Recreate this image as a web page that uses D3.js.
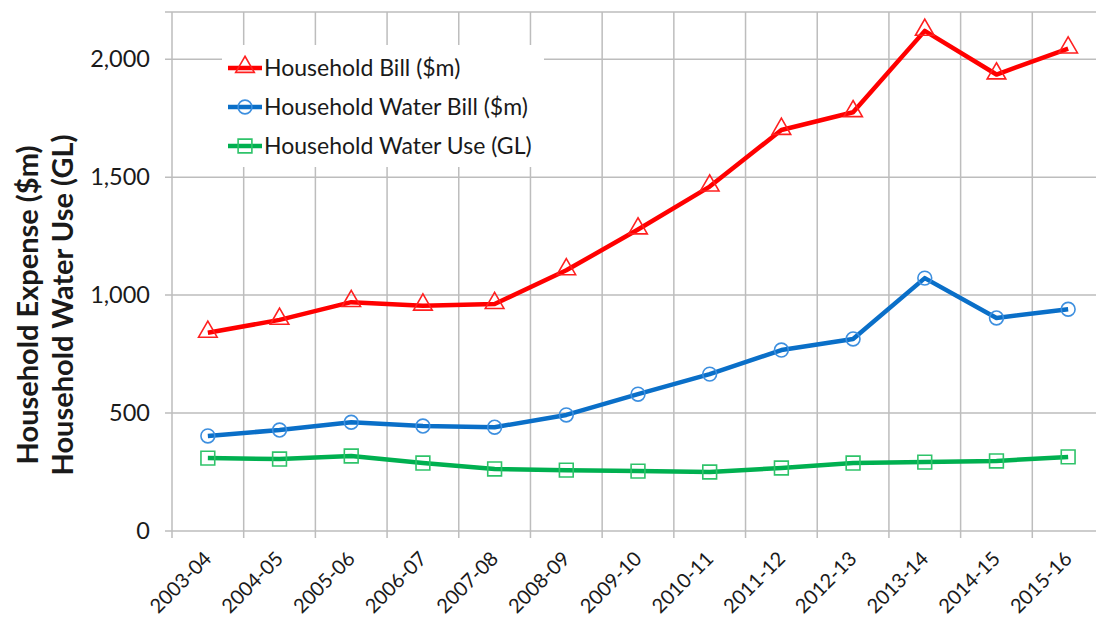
<!DOCTYPE html>
<html>
<head>
<meta charset="utf-8">
<script src="https://cdn.jsdelivr.net/npm/d3@7"></script>
<style>
  body { margin: 0; background: #fff; }
  text { font-family: Lato, "Open Sans", sans-serif; fill: #1a1a1a; }
</style>
</head>
<body>
<div id="chart"></div>
<script>
const years = ["2003-04", "2004-05", "2005-06", "2006-07", "2007-08", "2008-09", "2009-10",
  "2010-11", "2011-12", "2012-13", "2013-14", "2014-15", "2015-16"];
const householdBill = [840, 895, 970, 955, 962, 1105, 1278, 1460, 1700, 1775, 2120, 1935, 2045];
const householdWaterBill = [403, 428, 461, 445, 440, 492, 580, 665, 767, 814, 1072, 903, 940];
const householdWaterUse = [309, 305, 318, 288, 263, 258, 254, 250, 267, 288, 292, 297, 314];
const yTicks = [0, 500, 1000, 1500, 2000];

const series = [
  { name: "Household Bill ($m)", values: householdBill, color: "#ff0000", marker: "#ff2020", symbol: d3.symbolTriangle, size: 150 },
  { name: "Household Water Bill ($m)", values: householdWaterBill, color: "#0a6fc8", marker: "#3d8fdf", symbol: d3.symbolCircle, size: 150 },
  { name: "Household Water Use (GL)", values: householdWaterUse, color: "#00b050", marker: "#2fc36a", symbol: d3.symbolSquare, size: 190 }
];

const width = 1096, height = 626;
const margin = { top: 12, right: -8, bottom: 95, left: 172 };

const svg = d3.select("#chart").append("svg")
  .attr("width", width)
  .attr("height", height);

const x = d3.scaleBand()
  .domain(years)
  .range([margin.left, width - margin.right]);

const y = d3.scaleLinear()
  .domain([0, 2200])
  .range([height - margin.bottom, margin.top]);

const grid = svg.append("g").attr("stroke", "#bdbdbd").attr("stroke-width", 1.5);

// horizontal gridlines + top border
grid.selectAll(".hg")
  .data(yTicks.concat([2200]))
  .join("line")
  .attr("x1", margin.left - 7)
  .attr("x2", width - margin.right)
  .attr("y1", d => y(d))
  .attr("y2", d => y(d));

// vertical gridlines at category boundaries
const bounds = years.map(d => x(d)).concat([x(years[years.length - 1]) + x.bandwidth()]);
grid.selectAll(".vg")
  .data(bounds)
  .join("line")
  .attr("x1", d => d)
  .attr("x2", d => d)
  .attr("y1", y(2200))
  .attr("y2", y(0) + 7);

// y tick labels
svg.append("g")
  .selectAll("text")
  .data(yTicks)
  .join("text")
  .attr("x", margin.left - 22)
  .attr("y", d => y(d))
  .attr("dy", "0.35em")
  .attr("text-anchor", "end")
  .style("font-size", "23.5px")
  .text(d => d3.format(",")(d));

// x tick labels
svg.append("g")
  .selectAll("text")
  .data(years)
  .join("text")
  .attr("transform", d => `translate(${x(d) + x.bandwidth() / 2},${y(0) + 24}) rotate(-45)`)
  .attr("text-anchor", "end")
  .attr("dy", "0.35em")
  .style("font-size", "20px")
  .text(d => d);

// y axis title
const title = svg.append("text")
  .attr("transform", `translate(0,305) rotate(-90)`)
  .attr("text-anchor", "middle")
  .style("font-size", "29px")
  .style("font-weight", "bold");
title.append("tspan").attr("x", 0).attr("y", 38).text("Household Expense ($m)");
title.append("tspan").attr("x", 0).attr("y", 73).text("Household Water Use (GL)");

// lines
const line = d3.line()
  .x((d, i) => x(years[i]) + x.bandwidth() / 2)
  .y(d => y(d));

series.forEach(s => {
  svg.append("path")
    .datum(s.values)
    .attr("fill", "none")
    .attr("stroke", s.color)
    .attr("stroke-width", 4.5)
    .attr("stroke-linejoin", "round")
    .attr("d", line);

  svg.append("g")
    .selectAll("path")
    .data(s.values)
    .join("path")
    .attr("transform", (d, i) => `translate(${x(years[i]) + x.bandwidth() / 2},${y(d) + (s.symbol === d3.symbolTriangle ? -1 : 0)})`)
    .attr("d", d3.symbol().type(s.symbol).size(s.size))
    .attr("fill", "none")
    .attr("stroke", s.marker)
    .attr("stroke-width", 1.6);
});

// legend
const legend = svg.append("g").attr("transform", "translate(222,45)");
legend.append("rect")
  .attr("width", 322)
  .attr("height", 122)
  .attr("fill", "#fff");

const entry = legend.selectAll("g")
  .data(series)
  .join("g")
  .attr("transform", (d, i) => `translate(6,${23 + i * 39})`);

entry.append("line")
  .attr("x1", 0).attr("x2", 34)
  .attr("stroke", d => d.color)
  .attr("stroke-width", 4.5);

entry.append("path")
  .attr("transform", d => `translate(17,${d.symbol === d3.symbolTriangle ? -1 : 0})`)
  .attr("d", d => d3.symbol().type(d.symbol).size(d.size)())
  .attr("fill", "none")
  .attr("stroke", d => d.marker)
  .attr("stroke-width", 1.6);

entry.append("text")
  .attr("x", 36)
  .attr("dy", "0.35em")
  .style("font-size", "23px")
  .text(d => d.name);
</script>
</body>
</html>
